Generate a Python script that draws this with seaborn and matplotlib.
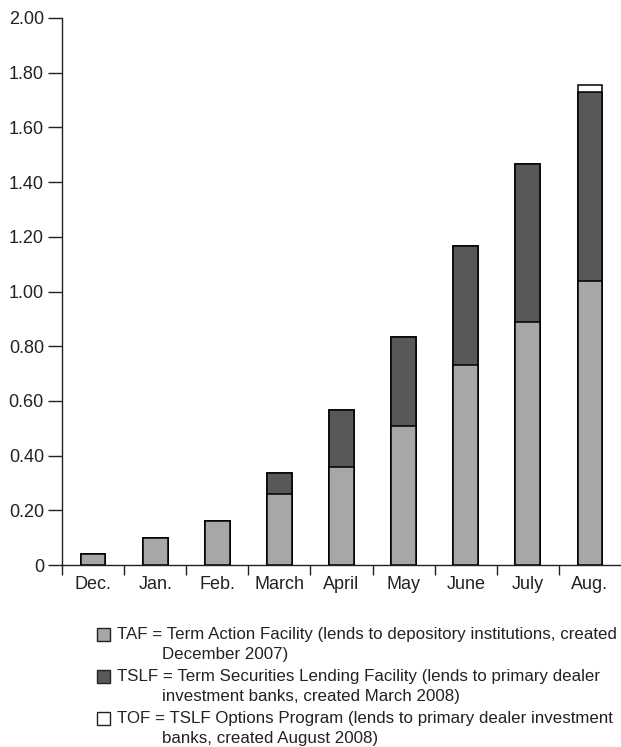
import matplotlib
matplotlib.use("Agg")
import matplotlib.pyplot as plt
from matplotlib.patches import Rectangle
import seaborn as sns
import pandas as pd

# Monthly lending by facility (trillions)
months = ["Dec.", "Jan.", "Feb.", "March", "April", "May", "June", "July", "Aug."]
taf = [0.04, 0.10, 0.16, 0.26, 0.36, 0.51, 0.73, 0.89, 1.04]
tslf = [0.0, 0.0, 0.0, 0.075, 0.205, 0.325, 0.435, 0.575, 0.69]
tof = [0.0, 0.0, 0.0, 0.0, 0.0, 0.0, 0.0, 0.0, 0.025]

y_ticks = [0, 0.2, 0.4, 0.6, 0.8, 1.0, 1.2, 1.4, 1.6, 1.8, 2.0]
y_labels = ["0", "0.20", "0.40", "0.60", "0.80", "1.00", "1.20", "1.40", "1.60", "1.80", "2.00"]

legend_lines = [
    ("TAF = Term Action Facility (lends to depository institutions, created",
     "December 2007)"),
    ("TSLF = Term Securities Lending Facility (lends to primary dealer",
     "investment banks, created March 2008)"),
    ("TOF = TSLF Options Program (lends to primary dealer investment",
     "banks, created August 2008)"),
]

c_taf = "#a7a7aa"
c_tslf = "#58585a"
c_tof = "#ffffff"
ink = "#222222"

sns.set_style("white")
plt.rcParams["font.family"] = ["Liberation Sans", "DejaVu Sans"]

df = pd.DataFrame({"month": months, "taf": taf, "tslf": tslf, "tof": tof})
df["lvl2"] = df["taf"] + df["tslf"]
df["lvl3"] = df["lvl2"] + df["tof"]

fig = plt.figure(figsize=(6.21, 7.47), dpi=100)
ax = fig.add_axes([62 / 621, 1 - 565 / 747, 1 - 62 / 621, (565 - 18) / 747])

# stack by layering cumulative totals
for col, color in [("lvl3", c_tof), ("lvl2", c_tslf), ("taf", c_taf)]:
    sns.barplot(data=df, x="month", y=col, color=color, width=0.4,
                edgecolor="black", linewidth=1.1, saturation=1, ax=ax)

ax.set_xlim(-0.5, 8.5)
ax.set_ylim(0, 2.0)
ax.set_xlabel("")
ax.set_ylabel("")
sns.despine(ax=ax)
for s in ["left", "bottom"]:
    ax.spines[s].set_color(ink)
    ax.spines[s].set_linewidth(1.0)

ax.set_yticks(y_ticks)
ax.set_yticklabels(y_labels)
ax.tick_params(axis="y", length=10, width=1, color=ink, labelsize=13,
               labelcolor=ink, pad=3, left=True, direction="out")

# tick marks at category boundaries, labels at centres
ax.set_xticks([i - 0.5 for i in range(len(months))])
ax.set_xticklabels([])
ax.set_xticks(range(len(months)), minor=True)
ax.set_xticklabels(months, minor=True)
ax.tick_params(axis="x", which="major", length=7, width=1, color=ink,
               bottom=True, direction="out")
ax.tick_params(axis="x", which="minor", length=0, labelsize=13,
               labelcolor=ink, pad=8)

# legend drawn below the axes
sq = 13 / 621
y0 = 1 - 634 / 747
for i, ((l1, l2), col) in enumerate(zip(legend_lines, [c_taf, c_tslf, c_tof])):
    y = y0 - i * 42 / 747
    fig.add_artist(Rectangle((97 / 621, y - 6.5 / 747), sq, 13 / 747,
                             transform=fig.transFigure, facecolor=col,
                             edgecolor=ink, linewidth=1.0))
    fig.text(117 / 621, y, l1, fontsize=12.2, color=ink, va="center", ha="left")
    fig.text(162 / 621, y - 21 / 747, l2, fontsize=12.2, color=ink,
             va="center", ha="left")

fig.savefig("out.png", dpi=100)
